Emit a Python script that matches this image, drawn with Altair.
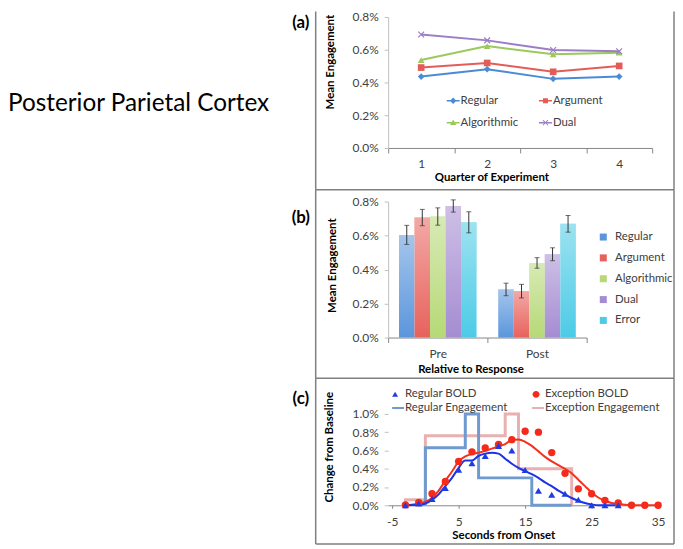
import altair as alt
import pandas as pd

# ---------------- data ----------------
# (a) mean engagement by quarter
quarters = ["1", "2", "3", "4"]
series_a = ["Regular", "Argument", "Algorithmic", "Dual"]
regular_a = [0.436, 0.481, 0.422, 0.436]
argument_a = [0.491, 0.519, 0.465, 0.501]
algorithmic_a = [0.537, 0.622, 0.572, 0.582]
dual_a = [0.693, 0.657, 0.598, 0.590]
colors_a = ["#4A8BD6", "#E25C58", "#9CC95C", "#9A7EC6"]

# (b) mean engagement relative to response
phases = ["Pre", "Post"]
series_b = ["Regular", "Argument", "Algorithmic", "Dual", "Error"]
pre_means = [0.604, 0.706, 0.712, 0.774, 0.678]
pre_errs = [0.056, 0.048, 0.051, 0.036, 0.062]
post_means = [0.283, 0.273, 0.439, 0.490, 0.669]
post_errs = [0.037, 0.040, 0.031, 0.038, 0.049]
colors_b = ["#5B96DC", "#E8625C", "#B6D977", "#A58CD2", "#4CCBE6"]

# (c) change from baseline
bold_times = [-3, -1, 1, 3, 5, 7, 9, 11, 13, 15, 17, 19, 21, 23, 25, 27, 29, 31, 33, 35]
exception_bold = [0.005, 0.03, 0.126, 0.26, 0.48, 0.585, 0.628, 0.667, 0.718, 0.81,
                  0.80, 0.577, 0.35, 0.18, 0.126, 0.054, 0.025, 0.0, 0.0, 0.0]
regular_bold = [0.0, 0.02, 0.07, 0.19, 0.39, 0.46, 0.54, 0.65, 0.60, 0.386,
                0.16, 0.115, 0.126, 0.06, 0.0, 0.0, 0.0]
fit_times = [-3, -1, 0, 1, 2, 3, 4, 5, 6, 7, 8, 9, 10, 11, 12, 13, 14, 15, 16, 17,
             18, 19, 20, 21, 22, 23, 24, 25, 26, 27, 28, 29, 30, 31, 33, 35]
exception_fit = [0.0, 0.02, 0.04, 0.08, 0.16, 0.27, 0.37, 0.48, 0.535, 0.56, 0.575, 0.595,
                 0.62, 0.645, 0.67, 0.715, 0.72, 0.695, 0.65, 0.59, 0.53, 0.48, 0.44, 0.40,
                 0.35, 0.28, 0.21, 0.14, 0.085, 0.05, 0.025, 0.015, 0.005, 0.0, 0.0, 0.0]
regular_fit = [0.0, 0.005, 0.02, 0.06, 0.12, 0.21, 0.30, 0.41, 0.49, 0.49, 0.54, 0.565,
               0.575, 0.565, 0.51, 0.455, 0.41, 0.375, 0.34, 0.30, 0.25, 0.21, 0.16, 0.12,
               0.08, 0.05, 0.025, 0.01, 0.0, 0.0, 0.0, 0.0]
reg_eng_times = [0, 0, 6, 6, 8, 8, 16, 16, 22]
reg_eng_vals = [0.0, 0.63, 0.63, 1.0, 1.0, 0.30, 0.30, 0.0, 0.0]
exc_eng_times = [-3, -3, 0, 0, 12, 12, 14, 14, 22, 22]
exc_eng_vals = [0.0, 0.06, 0.06, 0.76, 0.76, 1.0, 1.0, 0.40, 0.40, 0.0]
series_c = ["Regular BOLD", "Exception BOLD", "Regular Engagement", "Exception Engagement"]
colors_c = ["#1F3BE6", "#F52A1A", "#6E9AD0", "#E8B0B0"]

# ---------------- styling helpers ----------------
FONT = "Lato"
TXT = "#404040"
BOX = "#7F7F7F"
PCT = "format(datum.value, '.1f') + '%'"
one = alt.Data(values=[{"k": 1}])


def y_axis(values, title, tx, ty, domain=True):
    return alt.Axis(values=values, labelExpr=PCT, title=title, titleX=tx, titleY=ty,
                    titleAlign="center", titleBaseline="middle", titleFontSize=11.5,
                    titleFontWeight="bold", titleColor="black", labelFontSize=12,
                    labelColor=TXT, labelPadding=6, tickSize=4, tickColor="#BFBFBF",
                    domain=domain, domainColor="#BFBFBF", grid=False, labelFlush=False,
                    labelOverlap=False)


def x_axis(title, tx, ty, **kw):
    opts = dict(title=title, titleX=tx, titleY=ty, titleAlign="center",
                titleBaseline="middle", titleFontSize=11.5, titleFontWeight="bold",
                titleColor="black", labelFontSize=12, labelColor=TXT, labelAngle=0,
                tickSize=5, tickColor="#868686", domainColor="#868686", grid=False,
                labelFlush=False, labelOverlap=False)
    opts.update(kw)
    return alt.Axis(**opts)


def vrule(x, y1, y2):
    return alt.Chart(one).mark_rule(color=BOX, strokeWidth=1.5).encode(
        x=alt.value(x), y=alt.value(y1), y2=alt.value(y2))


def hrule(y, x1, x2):
    return alt.Chart(one).mark_rule(color=BOX, strokeWidth=1.5).encode(
        x=alt.value(x1), x2=alt.value(x2), y=alt.value(y))


def label(txt, x, y, size=17, weight="bold", align="center"):
    return alt.Chart(one).mark_text(text=txt, fontSize=size, fontWeight=weight,
                                    align=align, baseline="middle", color="black").encode(
        x=alt.value(x), y=alt.value(y))


# ---------------- panel (a) ----------------
WA, HA = 266, 132
rows_a = []
for s, vals in zip(series_a, [regular_a, argument_a, algorithmic_a, dual_a]):
    for q, v in zip(quarters, vals):
        rows_a.append({"q": q, "series": s, "v": v})
df_a = pd.DataFrame(rows_a)

xa = alt.X("q:N", scale=alt.Scale(type="band", domain=quarters, paddingInner=0, paddingOuter=0),
           axis=x_axis("Quarter of Experiment", 104, 30, tickBand="extent", labelPadding=6))
ya = alt.Y("v:Q", scale=alt.Scale(domain=[0, 0.8], nice=False),
           axis=y_axis([0, 0.2, 0.4, 0.6, 0.8], "Mean Engagement", -58, 45))

X_MARK = "M-1,-0.75L-0.75,-1L1,0.75L0.75,1Z M0.75,-1L1,-0.75L-0.75,1L-1,0.75Z"
marker_shapes_a = ["diamond", "square", "triangle-up", X_MARK]
series_layers_a = []
for s, shp, c in zip(series_a, marker_shapes_a, colors_a):
    base = alt.Chart(df_a).transform_filter(alt.datum.series == s)
    series_layers_a.append(base.mark_line(strokeWidth=2, color=c).encode(x=xa, y=ya))
    series_layers_a.append(base.mark_point(shape=shp, filled=True, size=45, color=c,
                                           opacity=1).encode(x=xa, y=ya))

leg_paths_a = [
    "M-1,-0.12H1V0.12H-1Z M0,-0.5L0.5,0L0,0.5L-0.5,0Z",
    "M-1,-0.12H1V0.12H-1Z M-0.38,-0.38H0.38V0.38H-0.38Z",
    "M-1,-0.12H1V0.12H-1Z M0,-0.48L0.48,0.38L-0.48,0.38Z",
    "M-1,-0.12H1V0.12H-1Z M-0.45,-0.35L-0.35,-0.45L0.45,0.35L0.35,0.45Z M0.35,-0.45L0.45,-0.35L-0.35,0.45L-0.45,0.35Z",
]
df_leg_a = pd.DataFrame({"series": series_a})
leg_a = alt.Legend(title=None, orient="none", legendX=59, legendY=78, columns=2,
                   direction="horizontal", symbolSize=169, symbolStrokeWidth=0,
                   labelFontSize=11.5, labelColor=TXT, labelOffset=1, rowPadding=10,
                   columnPadding=20, padding=0)
legend_a = alt.Chart(df_leg_a).transform_filter("false").mark_point(filled=True, opacity=1).encode(
    fill=alt.Fill("series:N", scale=alt.Scale(domain=series_a, range=colors_a), legend=leg_a),
    shape=alt.Shape("series:N", scale=alt.Scale(domain=series_a, range=leg_paths_a), legend=leg_a))

panel_a = alt.layer(
    *series_layers_a, legend_a,
    vrule(-73, -5.5, 174), vrule(288, -5.5, 174), hrule(174, -73, 288),
    label("(a)", -88, 6),
    label("Posterior Parietal Cortex", -383, 88, size=24.5, weight="normal", align="left"),
).properties(width=WA, height=HA)

# ---------------- panel (b) ----------------
WB, HB = 200, 137
rows_b = []
for ph, means, errs in [("Pre", pre_means, pre_errs), ("Post", post_means, post_errs)]:
    for s, m, e in zip(series_b, means, errs):
        rows_b.append({"phase": ph, "series": s, "v": m, "lo": m - e, "hi": m + e})
df_b = pd.DataFrame(rows_b)

xb = alt.X("phase:N", scale=alt.Scale(domain=phases, paddingInner=0, paddingOuter=0),
           axis=x_axis("Relative to Response", 83, 32, tickBand="extent", labelPadding=6))
xob = alt.XOffset("series:N", scale=alt.Scale(domain=series_b, paddingInner=0, paddingOuter=0.7))
yscale_b = alt.Scale(domain=[0, 0.8], nice=False)
yaxis_b = y_axis([0, 0.2, 0.4, 0.6, 0.8], "Mean Engagement", -56, 64)
yb = alt.Y("v:Q", scale=yscale_b, axis=yaxis_b)
leg_b = alt.Legend(title=None, orient="none", legendX=211, legendY=30, symbolType="square",
                   symbolSize=50, symbolStrokeWidth=0, labelFontSize=11.5, labelColor=TXT,
                   labelOffset=6, rowPadding=8, padding=0)

bars_b = alt.Chart(df_b).mark_bar().encode(
    x=xb, xOffset=xob, y=yb,
    color=alt.Color("series:N", scale=alt.Scale(domain=series_b, range=colors_b), legend=leg_b))
gloss = alt.Gradient(gradient="linear", x1=0, x2=0, y1=0, y2=1, stops=[
    alt.GradientStop(color="rgba(255,255,255,0.45)", offset=0),
    alt.GradientStop(color="rgba(255,255,255,0.0)", offset=1)])
gloss_b = alt.Chart(df_b).mark_bar(color=gloss).encode(x=xb, xOffset=xob, y=yb)
err_b = alt.Chart(df_b).mark_rule(color="#333333", strokeWidth=1).encode(
    x=xb, xOffset=xob, y=alt.Y("lo:Q", scale=yscale_b, axis=yaxis_b), y2="hi:Q")
cap_lo = alt.Chart(df_b).mark_tick(color="#333333", thickness=1, size=5).encode(
    x=xb, xOffset=xob, y=alt.Y("lo:Q", scale=yscale_b, axis=yaxis_b))
cap_hi = alt.Chart(df_b).mark_tick(color="#333333", thickness=1, size=5).encode(
    x=xb, xOffset=xob, y=alt.Y("hi:Q", scale=yscale_b, axis=yaxis_b))

panel_b = alt.layer(
    bars_b, gloss_b, err_b, cap_lo, cap_hi,
    vrule(-73, -12, 178), vrule(288, -12, 178), hrule(178, -73, 288),
    label("(b)", -88, 17),
).properties(width=WB, height=HB)

# ---------------- panel (c) ----------------
WC, HC = 272, 115
xc = alt.X("t:Q", scale=alt.Scale(domain=[-5.6, 35], nice=False, zero=False),
           axis=x_axis("Seconds from Onset", 116, 30, values=[-5, 5, 15, 25, 35],
                       labelExpr="'' + datum.value", labelPadding=8, tickSize=3))
yc = alt.Y("v:Q", scale=alt.Scale(domain=[0, 1.249], nice=False),
           axis=y_axis([0, 0.2, 0.4, 0.6, 0.8, 1.0], "Change from Baseline", -59, 56,
                       domain=False))

df_exc_eng = pd.DataFrame({"t": exc_eng_times, "v": exc_eng_vals, "i": range(len(exc_eng_vals))})
df_reg_eng = pd.DataFrame({"t": reg_eng_times, "v": reg_eng_vals, "i": range(len(reg_eng_vals))})
df_exc_fit = pd.DataFrame({"t": fit_times, "v": exception_fit})
df_reg_fit = pd.DataFrame({"t": fit_times[:len(regular_fit)], "v": regular_fit})
df_exc_bold = pd.DataFrame({"t": bold_times, "v": exception_bold})
df_reg_bold = pd.DataFrame({"t": bold_times[:len(regular_bold)], "v": regular_bold})

exc_eng = alt.Chart(df_exc_eng).mark_line(color=colors_c[3], strokeWidth=3).encode(
    x=xc, y=yc, order="i:Q")
reg_eng = alt.Chart(df_reg_eng).mark_line(color=colors_c[2], strokeWidth=3).encode(
    x=xc, y=yc, order="i:Q")
exc_fit = alt.Chart(df_exc_fit).mark_line(color="#F5301E", strokeWidth=2,
                                          interpolate="monotone").encode(x=xc, y=yc)
reg_fit = alt.Chart(df_reg_fit).mark_line(color="#1E32E6", strokeWidth=2,
                                          interpolate="monotone").encode(x=xc, y=yc)
exc_pts = alt.Chart(df_exc_bold).mark_circle(color=colors_c[1], size=55, opacity=1).encode(
    x=xc, y=yc)
reg_pts = alt.Chart(df_reg_bold).mark_point(shape="triangle-up", filled=True, size=50,
                                            color=colors_c[0], opacity=1).encode(x=xc, y=yc)

leg_paths_c = [
    "M-0.5,-0.45L0,0.4L-1,0.4Z",
    "M-0.91,0A0.58,0.58 0 1,1 0.25,0A0.58,0.58 0 1,1 -0.91,0Z",
    "M-1,-0.17H1V0.17H-1Z",
    "M-1,-0.17H1V0.17H-1Z",
]
df_leg_c = pd.DataFrame({"series": series_c})
leg_c = alt.Legend(title=None, orient="none", legendX=4, legendY=-3, columns=2,
                   direction="horizontal", symbolSize=144, symbolStrokeWidth=0,
                   labelFontSize=11.5, labelColor=TXT, labelOffset=1, rowPadding=2,
                   columnPadding=24, padding=0)
legend_c = alt.Chart(df_leg_c).transform_filter("false").mark_point(filled=True, opacity=1).encode(
    fill=alt.Fill("series:N", scale=alt.Scale(domain=series_c, range=colors_c), legend=leg_c),
    shape=alt.Shape("series:N", scale=alt.Scale(domain=series_c, range=leg_paths_c), legend=leg_c))

panel_c = alt.layer(
    exc_eng, reg_eng, exc_fit, reg_fit, exc_pts, reg_pts, legend_c,
    vrule(-73, -13, 154), vrule(288, -13, 154), hrule(154, -73, 288),
    label("(c)", -88, 8),
).properties(width=WC, height=HC)

chart = alt.vconcat(panel_a, panel_b, panel_c, spacing=54, bounds="flush").resolve_scale(
    color="independent", fill="independent", shape="independent"
).resolve_legend(
    color="independent", fill="independent", shape="independent"
).properties(
    padding=0, background="white"
).configure(font=FONT).configure_view(stroke=None)

chart.save("out.html", embed_options={"renderer": "svg", "actions": False})
